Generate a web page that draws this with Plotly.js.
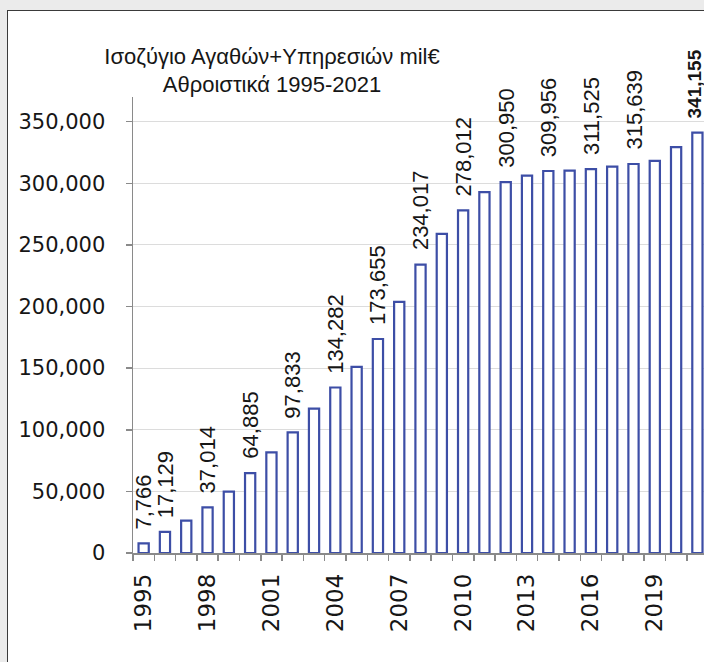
<!DOCTYPE html>
<html>
<head>
<meta charset="utf-8">
<script src="https://cdn.plot.ly/plotly-3.0.1.min.js"></script>
<style>
  html, body { margin: 0; padding: 0; background: #ebebeb; width: 704px; height: 662px; overflow: hidden; }
  #frame { position: absolute; left: 7px; top: 10px; width: 697px; height: 652px; background: #ffffff;
           border-left: 1px solid #3a3a3a; border-top: 1px solid #3a3a3a; box-sizing: border-box; }
  #chart { position: absolute; left: 0; top: 0; width: 696px; height: 651px; }
</style>
</head>
<body>
<div id="frame"><div id="chart"></div></div>
<script>
// Years (categories)
const years = [1995,1996,1997,1998,1999,2000,2001,2002,2003,2004,2005,2006,2007,2008,
               2009,2010,2011,2012,2013,2014,2015,2016,2017,2018,2019,2020,2021];
// Cumulative balance of goods + services, mil€ (labelled values exact, others)
const values = [7766,17129,26200,37014,49800,64885,81700,97833,117100,134282,151000,173655,203700,234017,
                259000,278012,292800,300950,306200,309956,310300,311525,313500,315639,318200,329300,341155];
// Years that carry a data label
const labelledYears = [1995,1996,1998,2000,2002,2004,2006,2008,2010,2012,2014,2016,2018,2021];
const boldYear = 2021;
const titleLines = ['Ισοζύγιο Αγαθών+Υπηρεσιών mil€', 'Αθροιστικά 1995-2021'];

const fmt = v => v.toLocaleString('en-US');

const trace = {
  type: 'bar',
  x: years,
  y: values,
  width: 0.48,
  marker: { color: '#ffffff', line: { color: '#3d4ea6', width: 2.2 } },
  hoverinfo: 'x+y'
};

const annotations = labelledYears.map(yr => {
  const v = values[years.indexOf(yr)];
  const bold = yr === boldYear;
  return {
    x: yr, y: v, xref: 'x', yref: 'y',
    text: bold ? '<b>' + fmt(v) + '</b>' : fmt(v),
    showarrow: false, textangle: -90,
    xanchor: 'center', yanchor: 'bottom', yshift: 12, xshift: bold ? -3 : 0,
    font: { family: '"Liberation Sans", Arial, sans-serif', size: bold ? 19 : 22, color: '#161616' }
  };
});

const layout = {
  width: 696, height: 651,
  margin: { l: 125, r: 0, t: 86, b: 109 },
  paper_bgcolor: '#ffffff', plot_bgcolor: '#ffffff',
  showlegend: false,
  title: {
    text: titleLines.join('<br>'),
    font: { family: '"Liberation Sans", Arial, sans-serif', size: 22, color: '#161616' },
    x: 264 / 696, xanchor: 'center', xref: 'container',
    y: 1 - 52.5 / 651, yanchor: 'middle', yref: 'container'
  },
  xaxis: {
    type: 'linear',
    range: [1994.5, 2021.31],
    tick0: 1995, dtick: 3,
    ticks: '',
    tickangle: -90,
    ticklabelstandoff: 10,
    tickfont: { family: '"DejaVu Sans", sans-serif', size: 23, color: '#161616' },
    showgrid: false, zeroline: false,
    showline: true, linecolor: '#8a8a8a', linewidth: 1.5,
    minor: { tick0: 1994.5, dtick: 1, ticks: 'outside', ticklen: 6, tickcolor: '#8a8a8a', tickwidth: 1.5, showgrid: false }
  },
  yaxis: {
    range: [0, 370000],
    tick0: 0, dtick: 50000,
    tickformat: ',d',
    ticks: 'outside', ticklen: 6, tickcolor: '#8a8a8a', tickwidth: 1.5,
    ticklabelstandoff: 16,
    tickfont: { family: '"DejaVu Sans", sans-serif', size: 21, color: '#161616' },
    showgrid: true, gridcolor: '#dcdcdc', gridwidth: 1,
    zeroline: false,
    showline: true, linecolor: '#8a8a8a', linewidth: 1.5
  },
  annotations: annotations
};

Plotly.newPlot('chart', [trace], layout, { staticPlot: true, displayModeBar: false });
</script>
</body>
</html>
